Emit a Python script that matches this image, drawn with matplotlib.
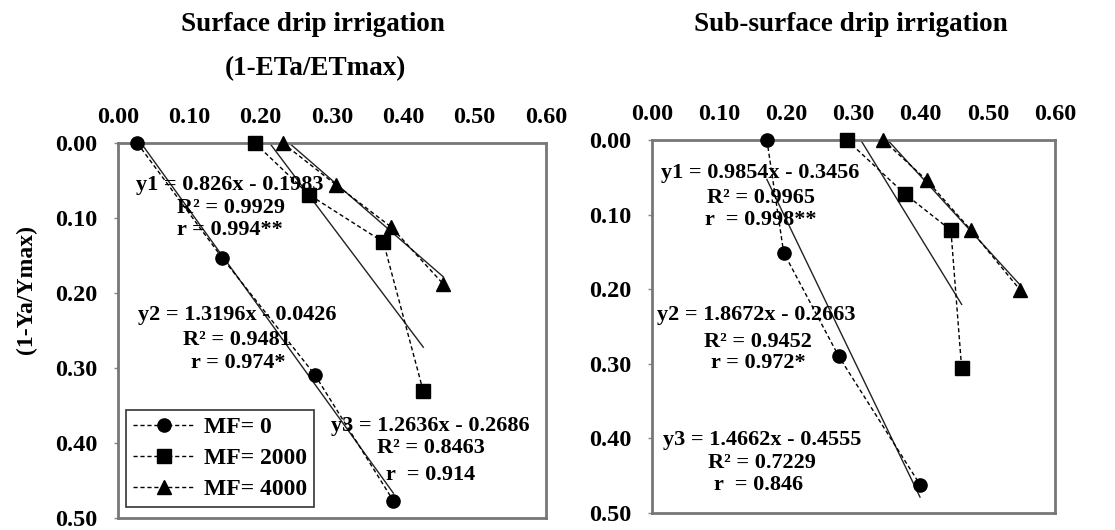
import numpy as np
import matplotlib
matplotlib.use("Agg")
import matplotlib.pyplot as plt

plt.rcParams['font.family'] = ['Liberation Serif', 'DejaVu Serif']
plt.rcParams['font.weight'] = 'bold'

# x = 1-ETa/ETmax, y = 1-Ya/Ymax
labels = ["MF= 0", "MF= 2000", "MF= 4000"]
markers = ["o", "s", "^"]

surf_x = [[0.027, 0.146, 0.276, 0.386],
          [0.192, 0.268, 0.372, 0.428],
          [0.231, 0.306, 0.383, 0.456]]
surf_y = [[0.000, 0.153, 0.309, 0.477],
          [0.000, 0.069, 0.132, 0.331],
          [0.000, 0.056, 0.112, 0.188]]

sub_x = [[0.171, 0.196, 0.278, 0.399],
         [0.290, 0.376, 0.445, 0.461],
         [0.344, 0.409, 0.475, 0.548]]
sub_y = [[0.000, 0.151, 0.290, 0.462],
         [0.000, 0.072, 0.121, 0.306],
         [0.000, 0.054, 0.121, 0.201]]

# fitted lines (slope, intercept) per series: MF=0, 2000, 4000
surf_fit = [(1.3196, -0.0426), (1.2636, -0.2686), (0.826, -0.1983)]
sub_fit = [(1.8672, -0.2663), (1.4662, -0.4555), (0.9854, -0.3456)]

surf_text = [
    (0.156, 0.056, "y1 = 0.826x - 0.1983"), (0.158, 0.087, "R² = 0.9929"),
    (0.157, 0.116, "r = 0.994**"),
    (0.167, 0.229, "y2 = 1.3196x - 0.0426"), (0.167, 0.263, "R² = 0.9481"),
    (0.168, 0.293, "r = 0.974*"),
    (0.438, 0.377, "y3 = 1.2636x - 0.2686"), (0.438, 0.407, "R² = 0.8463"),
    (0.438, 0.443, "r  = 0.914"),
]
sub_text = [
    (0.161, 0.044, "y1 = 0.9854x - 0.3456"), (0.162, 0.078, "R² = 0.9965"),
    (0.162, 0.107, "r  = 0.998**"),
    (0.155, 0.235, "y2 = 1.8672x - 0.2663"), (0.158, 0.271, "R² = 0.9452"),
    (0.158, 0.299, "r = 0.972*"),
    (0.164, 0.402, "y3 = 1.4662x - 0.4555"), (0.164, 0.433, "R² = 0.7229"),
    (0.158, 0.462, "r  = 0.846"),
]

ticks = [0.0, 0.1, 0.2, 0.3, 0.4, 0.5, 0.6]
yticks = [0.0, 0.1, 0.2, 0.3, 0.4, 0.5]

fig = plt.figure(figsize=(11.15, 5.30), dpi=100)
ax1 = fig.add_axes([0.1058, 0.0226, 0.3839, 0.7075])
ax2 = fig.add_axes([0.5848, 0.0321, 0.3614, 0.7038])


def draw(ax, xs, ys, fits, texts):
    for i in range(3):
        ax.plot(xs[i], ys[i], color='black', lw=1, linestyle=(0, (3, 2)),
                marker=markers[i], markersize=10 if i else 9.5,
                markerfacecolor='black', clip_on=False, label=labels[i], zorder=3)
        m, b = fits[i]
        fx = np.array([min(xs[i]), max(xs[i])])
        ax.plot(fx, m * fx + b, color='#222222', lw=1, zorder=2)
    for x, y, s in texts:
        ax.text(x, y, s, ha='center', va='center', fontsize=16, fontweight='bold')
    ax.set_xlim(0, 0.6)
    ax.set_ylim(0.5, 0)
    ax.xaxis.tick_top()
    ax.set_xticks(ticks)
    ax.set_xticklabels([f"{t:.2f}" for t in ticks])
    ax.set_yticks(yticks)
    ax.set_yticklabels([f"{t:.2f}" for t in yticks])
    ax.tick_params(axis='x', length=0, pad=11, labelsize=17.5)
    ax.tick_params(axis='y', length=3, width=1, color='#888888', pad=12, labelsize=17.5)
    for sp in ax.spines.values():
        sp.set_color('#777777')
        sp.set_linewidth(2)


draw(ax1, surf_x, surf_y, surf_fit, surf_text)
draw(ax2, sub_x, sub_y, sub_fit, sub_text)

leg = ax1.legend(loc='lower left', bbox_to_anchor=(0.019, 0.029), fontsize=17,
                 frameon=True, fancybox=False, edgecolor='black',
                 handlelength=2.6, borderpad=0.3, labelspacing=0.4,
                 handletextpad=0.4, borderaxespad=0)
leg.get_frame().set_linewidth(1.2)

fig.text(0.281, 0.953, "Surface drip irrigation", ha='center', va='center',
         fontsize=19.5, fontweight='bold')
fig.text(0.283, 0.870, "(1-ETa/ETmax)", ha='center', va='center',
         fontsize=19.5, fontweight='bold')
fig.text(0.763, 0.953, "Sub-surface drip irrigation", ha='center', va='center',
         fontsize=19.5, fontweight='bold')
fig.text(0.024, 0.453, "(1-Ya/Ymax)", ha='center', va='center', rotation=90,
         fontsize=17, fontweight='bold')

fig.savefig("out.png", dpi=100)
